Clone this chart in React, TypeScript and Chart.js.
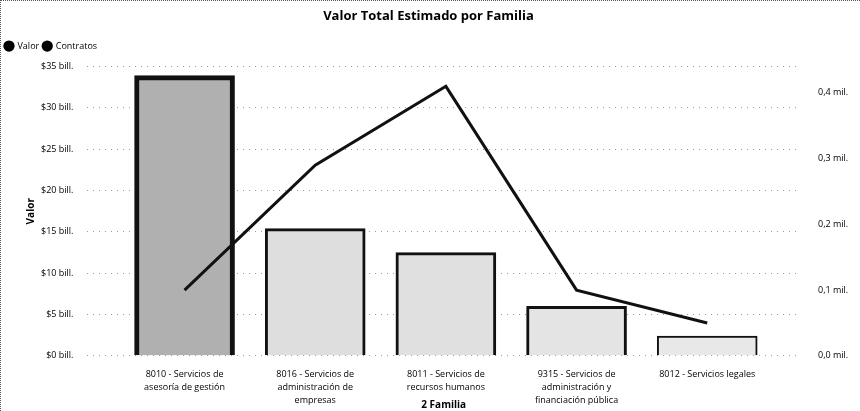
import React, { useEffect, useRef } from "react";
import { Chart, registerables } from "chart.js";

Chart.register(...registerables);

const categories: string[][] = [
  ["8010 - Servicios de", "asesoría de gestión"],
  ["8016 - Servicios de", "administración de", "empresas"],
  ["8011 - Servicios de", "recursos humanos"],
  ["9315 - Servicios de", "administración y", "financiación pública"],
  ["8012 - Servicios legales"],
];
const valorBill: number[] = [33.9, 15.4, 12.5, 6.0, 2.4];
const contratosMil: number[] = [0.1, 0.29, 0.41, 0.1, 0.05];
const barFills: string[] = ["#b0b0b0", "#dedede", "#e0e0e0", "#e4e4e4", "#e8e8e8"];
const barBorders: number[] = [5, 3, 3, 3, 2];

const FONT = "'Open Sans', 'DejaVu Sans', sans-serif";

export default function App() {
  const ref = useRef<HTMLCanvasElement | null>(null);
  useEffect(() => {
    document.body.style.margin = "0";
    const ctx = ref.current!;
    const chart = new Chart(ctx, {
      type: "bar",
      data: {
        datasets: [
          {
            type: "line",
            label: "Contratos",
            data: contratosMil.map((v, i) => ({ x: i, y: v })),
            yAxisID: "y1",
            borderColor: "#111",
            borderWidth: 3,
            pointRadius: 0,
            tension: 0,
            order: 0,
          } as any,
          {
            type: "bar",
            label: "Valor",
            data: valorBill.map((v, i) => ({ x: i, y: v })),
            yAxisID: "y",
            backgroundColor: barFills,
            borderColor: "#111",
            borderWidth: barBorders,
            barThickness: 100,
            order: 1,
          } as any,
        ],
      },
      options: {
        animation: false,
        responsive: true,
        maintainAspectRatio: false,
        layout: { padding: { left: 0, right: 4, top: 0, bottom: 0 } },
        plugins: {
          title: {
            display: true,
            text: "Valor Total Estimado por Familia",
            color: "#000",
            font: { family: FONT, size: 13, weight: "bold" },
            padding: { top: 7, bottom: 14 },
          },
          legend: {
            position: "top",
            align: "start",
            reverse: true,
            labels: {
              usePointStyle: true,
              pointStyle: "circle",
              boxWidth: 8,
              boxHeight: 8,
              padding: 4,
              color: "#000",
              font: { family: FONT, size: 9 },
              generateLabels: (c: any) =>
                c.data.datasets.map((d: any, i: number) => ({
                  text: d.label,
                  fillStyle: "#000",
                  strokeStyle: "#000",
                  lineWidth: 0,
                  pointStyle: "circle",
                  datasetIndex: i,
                  hidden: false,
                  fontColor: "#000",
                })),
            },
          },
          tooltip: { enabled: false },
        },
        scales: {
          x: {
            type: "linear",
            offset: false,
            min: -0.743,
            max: 4.71,
            afterBuildTicks: (s: any) => {
              s.ticks = categories.map((_, i) => ({ value: i }));
            },
            grid: { display: false, drawTicks: false, offset: false },
            border: { display: false },
            ticks: {
              color: "#000",
              font: { family: FONT, size: 9, lineHeight: 1.45 },
              maxRotation: 0,
              autoSkip: false,
              padding: 12,
              callback: (v: any) => categories[Math.round(Number(v))] ?? "",
            },
            title: {
              display: true,
              text: "2 Familia",
              color: "#000",
              font: { family: FONT, size: 10, weight: "bold" },
              padding: { top: -20, bottom: 0 },
            },
          },
          xTop: {
            type: "linear",
            position: "top",
            min: 0,
            max: 1,
            display: true,
            ticks: { display: false },
            grid: { display: false, drawTicks: false },
            border: { display: false },
            afterFit: (s: any) => {
              s.height = 6;
            },
          },
          y: {
            position: "left",
            min: 0,
            max: 35,
            ticks: {
              stepSize: 5,
              color: "#000",
              font: { family: FONT, size: 9 },
              padding: 14,
              callback: (v: any) => `$${v} bill.`,
            },
            grid: {
              color: "#9a9a9a",
              drawTicks: false,
            },
            border: { display: false, dash: [1, 5] },
            title: {
              display: true,
              text: "Valor",
              color: "#000",
              font: { family: FONT, size: 10, weight: "bold" },
              padding: { top: 24, bottom: -10 },
            },
          },
          y1: {
            position: "right",
            min: 0,
            max: 0.44,
            afterBuildTicks: (s: any) => {
              s.ticks = s.ticks.filter(
                (t: any) => Math.abs(t.value * 10 - Math.round(t.value * 10)) < 1e-6
              );
            },
            afterFit: (s: any) => {
              s.width = 56;
            },
            ticks: {
              stepSize: 0.1,
              color: "#000",
              font: { family: FONT, size: 9 },
              padding: 18,
              callback: (v: any) => `${Number(v).toFixed(1).replace(".", ",")} mil.`,
            },
            grid: { display: false, drawTicks: false },
            border: { display: false },
          },
        },
      } as any,
    });
    return () => chart.destroy();
  }, []);
  return (
    <div
      style={{
        width: 860,
        height: 411,
        boxSizing: "border-box",
        borderTop: "1px dotted #555",
        borderLeft: "1px dotted #555",
        position: "relative",
        background: "#fff",
      }}
    >
      <canvas ref={ref} />
    </div>
  );
}
